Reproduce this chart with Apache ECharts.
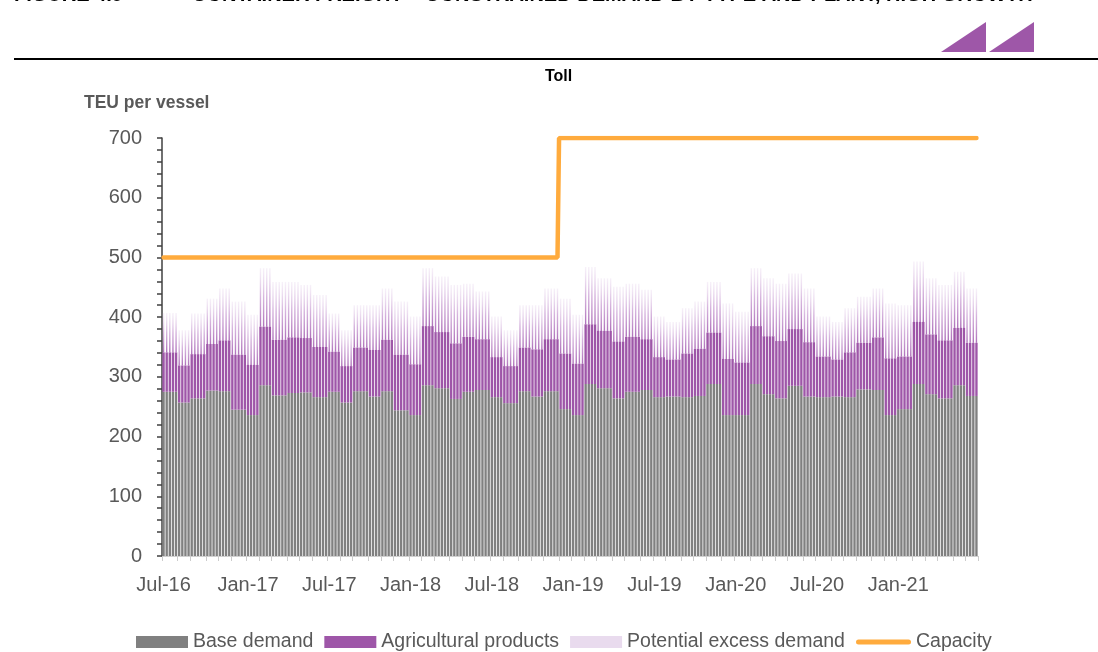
<!DOCTYPE html>
<html>
<head>
<meta charset="utf-8">
<script src="https://cdn.jsdelivr.net/npm/echarts@6/dist/echarts.min.js"></script>
<style>
html,body{margin:0;padding:0;background:#fff;}
#chart{width:1098px;height:652px;}
</style>
</head>
<body>
<div id="chart"></div>
<script>
// ---- Data (monthly values) ----
const months = ['Jul-16','Aug-16','Sep-16','Oct-16','Nov-16','Dec-16','Jan-17','Feb-17','Mar-17','Apr-17','May-17','Jun-17',
  'Jul-17','Aug-17','Sep-17','Oct-17','Nov-17','Dec-17','Jan-18','Feb-18','Mar-18','Apr-18','May-18','Jun-18',
  'Jul-18','Aug-18','Sep-18','Oct-18','Nov-18','Dec-18','Jan-19','Feb-19','Mar-19','Apr-19','May-19','Jun-19',
  'Jul-19','Aug-19','Sep-19','Oct-19','Nov-19','Dec-19','Jan-20','Feb-20','Mar-20','Apr-20','May-20','Jun-20',
  'Jul-20','Aug-20','Sep-20','Oct-20','Nov-20','Dec-20','Jan-21','Feb-21','Mar-21','Apr-21','May-21','Jun-21'];
const baseDemand = [275,257,264,277,276,245,236,286,269,273,274,266,
  275,257,276,267,276,244,236,286,281,263,275,278,
  266,256,276,267,276,246,236,288,281,264,275,278,
  266,267,266,268,288,236,236,288,271,264,285,267,
  266,267,266,279,278,236,246,288,271,264,286,268];
const agricultural = [66,62,74,78,85,92,84,98,93,93,91,84,
  67,61,73,78,86,93,85,99,94,93,92,85,
  67,62,73,79,87,93,86,100,96,95,92,85,
  67,62,73,79,86,94,88,97,97,96,95,91,
  68,62,75,78,88,95,88,104,100,97,96,89];
const excessDemand = [66,59,68,76,87,89,84,98,97,93,89,87,
  64,60,71,75,86,89,80,97,93,98,89,80,
  68,60,71,74,85,92,82,96,88,92,89,83,
  68,63,76,79,85,93,85,97,97,96,93,90,
  67,63,74,77,82,92,86,101,94,93,94,91];
const capacity = [500,500,500,500,500,500,500,500,500,500,500,500,
  500,500,500,500,500,500,500,500,500,500,500,500,
  500,500,500,500,500,700,700,700,700,700,700,700,
  700,700,700,700,700,700,700,700,700,700,700,700,
  700,700,700,700,700,700,700,700,700,700,700,700];
const tickLabels = ['Jul-16','Jan-17','Jul-17','Jan-18','Jul-18','Jan-19','Jul-19','Jan-20','Jul-20','Jan-21'];
const yTicks = {min:0, max:700, interval:100};

// ---- Weekly categories (each week takes its month's values) ----
const weeks = [], weekMonth = [], firstWeek = [];
let d = new Date(Date.UTC(2016, 6, 1));
const endT = Date.UTC(2021, 6, 1);
let prev = -1;
while (d.getTime() < endT) {
  const mi = (d.getUTCFullYear() - 2016) * 12 + d.getUTCMonth() - 6;
  weeks.push(months[mi] + '|' + weeks.length);
  weekMonth.push(mi);
  firstWeek.push(mi !== prev);
  prev = mi;
  d = new Date(d.getTime() + 7 * 86400000);
}
const wBase = weekMonth.map(m => baseDemand[m]);
const wAgri = weekMonth.map(m => agricultural[m]);
const wPed = weekMonth.map(m => baseDemand[m] + agricultural[m]);
const wExcess = weekMonth.map(m => excessDemand[m]);
const wCap = weekMonth.map(m => capacity[m]);

const FONT = 'Liberation Sans, Arial, Helvetica, sans-serif';
const chart = echarts.init(document.getElementById('chart'), null, {renderer: 'canvas'});

chart.setOption({
  animation: false,
  backgroundColor: '#ffffff',
  textStyle: {fontFamily: FONT},
  title: {
    text: 'Toll', left: 540, top: 64,
    textStyle: {fontFamily: FONT, fontSize: 16, fontWeight: 'bold', color: '#000'}
  },
  graphic: [
    {type: 'text', left: 14, top: -15, style: {text: 'FIGURE 4.9', font: 'bold 20px ' + FONT, fill: '#000'}},
    {type: 'text', left: 192, top: -15, style: {text: 'CONTAINER FREIGHT – CONSTRAINED DEMAND BY TYPE AND PLANT, HIGH GROWTH', font: 'bold 20px ' + FONT, fill: '#000'}},
    {type: 'line', shape: {x1: 14, y1: 59, x2: 1098, y2: 59}, style: {stroke: '#000', lineWidth: 2}},
    {type: 'polygon', shape: {points: [[941, 52], [986, 52], [986, 22]]}, style: {fill: '#9e57a8'}},
    {type: 'polygon', shape: {points: [[989, 52], [1034, 52], [1034, 22]]}, style: {fill: '#9e57a8'}},
    {type: 'text', left: 84, top: 94, style: {text: 'TEU per vessel', font: 'bold 17.5px ' + FONT, fill: '#595959'}}
  ],
  legend: [
    {
      left: 136, top: 632, padding: 0,
      itemWidth: 52, itemHeight: 12, itemGap: 11,
      textStyle: {fontFamily: FONT, fontSize: 19.5, color: '#595959'},
      data: [
        {name: 'Base demand', icon: 'rect'},
        {name: 'Agricultural products', icon: 'rect'},
        {name: 'Potential excess demand', icon: 'rect', itemStyle: {color: '#e9dbee'}}
      ]
    },
    {
      left: 856, top: 632, padding: 0,
      itemWidth: 55, itemHeight: 12, itemGap: 11,
      textStyle: {fontFamily: FONT, fontSize: 19.5, color: '#595959'},
      data: [
        {name: 'Capacity', icon: 'path://M2.5,0 L52.5,0 A2.5,2.5 0 0 1 52.5,5 L2.5,5 A2.5,2.5 0 0 1 2.5,0 Z', itemStyle: {color: '#ffab3d'}}
      ]
    }
  ],
  grid: {left: 162, right: 120, top: 138, bottom: 96, containLabel: false},
  xAxis: [
    {
      type: 'category', data: weeks, boundaryGap: true,
      axisLine: {show: true, lineStyle: {color: '#d0d0d0', width: 1}},
      axisTick: {show: true, length: 5, lineStyle: {color: '#cccccc'},
        interval: (i) => firstWeek[i]},
      axisLabel: {
        interval: (i, v) => firstWeek[i] && tickLabels.indexOf(v.split('|')[0]) >= 0,
        formatter: v => v.split('|')[0],
        color: '#595959', fontSize: 20, fontFamily: FONT, margin: 19
      },
      splitLine: {show: false}
    },
    {type: 'category', data: weeks, boundaryGap: true, show: false}
  ],
  yAxis: {
    type: 'value', min: yTicks.min, max: yTicks.max, interval: yTicks.interval,
    axisLine: {show: true, lineStyle: {color: '#404040', width: 1.5}},
    axisTick: {show: true, length: 5, inside: false, lineStyle: {color: '#404040', width: 1.5}},
    minorTick: {show: true, splitNumber: 5, length: 5, lineStyle: {color: '#404040', width: 1.5}},
    axisLabel: {color: '#595959', fontSize: 20, fontFamily: FONT, margin: 20},
    splitLine: {show: false}
  },
  series: [
    {
      name: 'Base demand', type: 'bar', stack: 'demand', xAxisIndex: 0,
      data: wBase, barCategoryGap: '24%',
      itemStyle: {color: '#808080'}, z: 2
    },
    {
      name: 'Agricultural products', type: 'bar', stack: 'demand', xAxisIndex: 0,
      data: wAgri, itemStyle: {color: '#9e56a8'}, z: 2
    },
    {
      name: 'pedestal', type: 'bar', stack: 'excess', xAxisIndex: 1,
      data: wPed, barWidth: 1.4, silent: true,
      itemStyle: {color: 'rgba(0,0,0,0)'}, z: 1
    },
    {
      name: 'Potential excess demand', type: 'bar', stack: 'excess', xAxisIndex: 1,
      data: wExcess, barWidth: 1.4, z: 1,
      itemStyle: {
        color: new echarts.graphic.LinearGradient(0, 1, 0, 0, [
          {offset: 0, color: 'rgba(170,105,182,0.95)'},
          {offset: 0.5, color: 'rgba(200,155,210,0.75)'},
          {offset: 1, color: 'rgba(235,220,240,0.4)'}
        ])
      }
    },
    {
      name: 'Capacity', type: 'line', xAxisIndex: 0,
      data: wCap, step: 'middle', symbol: 'none', showSymbol: false,
      lineStyle: {color: '#ffab3d', width: 4.5, cap: 'round'},
      itemStyle: {color: '#ffab3d'}, z: 5
    }
  ]
});
</script>
</body>
</html>
